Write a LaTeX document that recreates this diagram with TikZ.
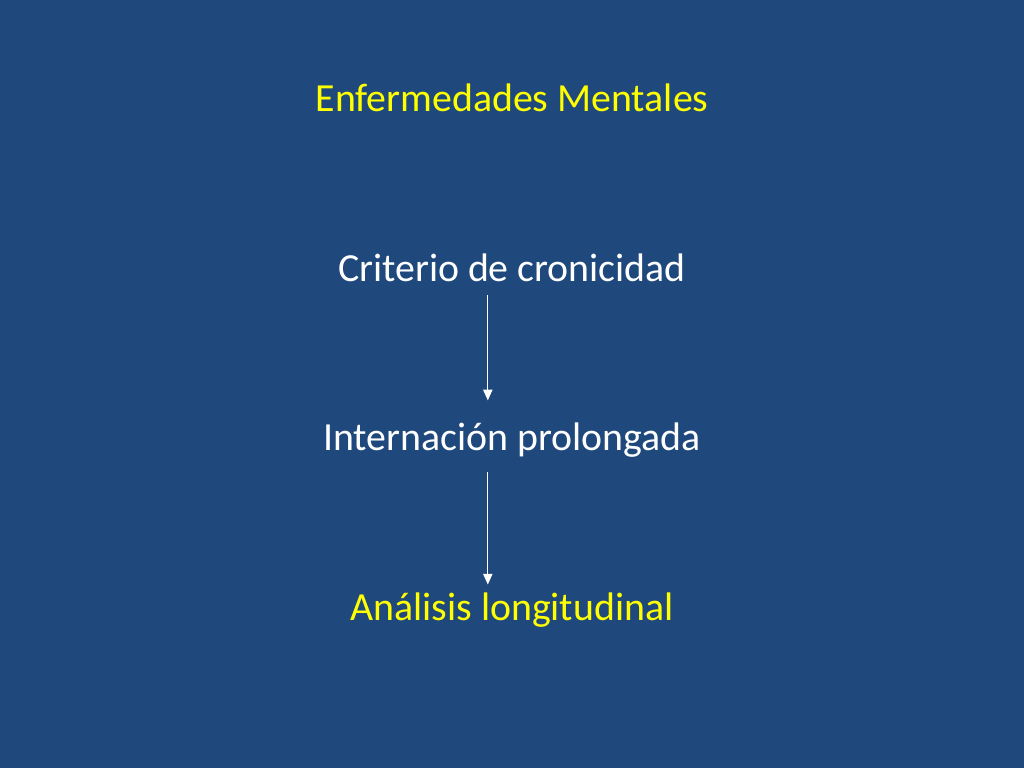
\documentclass[tikz,border=0pt]{standalone}
\usepackage{fontspec}
\setmainfont{Carlito}
\usetikzlibrary{arrows.meta}
\definecolor{bgblue}{RGB}{31,73,125}
\definecolor{ylw}{RGB}{255,255,0}
\tikzset{
  lbl/.style={font=\fontsize{28}{34}\selectfont, inner sep=0pt, anchor=center},
  conn/.style={draw=white, line width=0.9pt, -{Triangle[width=6.5pt,length=7.5pt]}}
}
\begin{document}
\begin{tikzpicture}[x=1pt,y=1pt]
\fill[bgblue] (0,0) rectangle (720,-540);
\useasboundingbox (0,0) rectangle (720,-540);
\node[lbl, text=ylw] (t1) at (360,-68.9) {Enfermedades Mentales};
\node[lbl, text=white] (t2) at (360,-188.4) {Criterio de cronicidad};
\node[lbl, text=white] (t3) at (360,-309.4) {Internación prolongada};
\node[lbl, text=ylw] (t4) at (360,-428.9) {Análisis longitudinal};
\coordinate (a1s) at (343,-207.4);
\coordinate (a1e) at (343,-281.5);
\coordinate (a2s) at (343,-331.9);
\coordinate (a2e) at (343,-411);
\draw[conn] (a1s) -- (a1e);
\draw[conn] (a2s) -- (a2e);
\end{tikzpicture}
\end{document}
